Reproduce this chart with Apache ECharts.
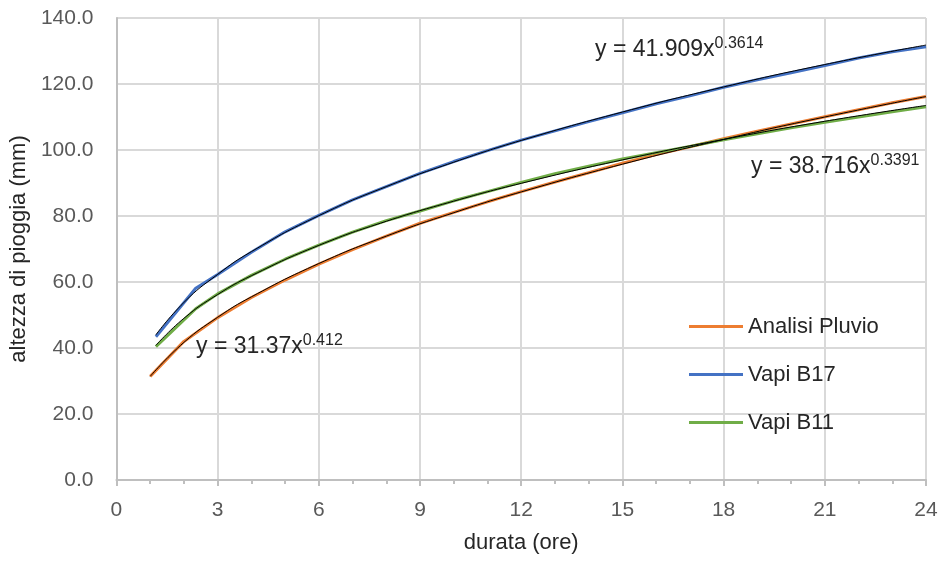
<!DOCTYPE html>
<html>
<head>
<meta charset="utf-8">
<script src="https://cdn.jsdelivr.net/npm/echarts@6/dist/echarts.min.js"></script>
<style>
  html, body { margin: 0; padding: 0; background: #fff; }
  #chart { width: 942px; height: 561px; }
</style>
</head>
<body>
<div id="chart"></div>
<script>
// durations (hours)
var pluvioX = [1, 2, 3, 4, 5, 6, 7, 8, 9, 10, 11, 12, 13, 14, 15, 16, 17, 18, 19, 20, 21, 22, 23, 24];
var vapiX = [1.17, 2.35, 3, 4, 5, 6, 7, 8, 9, 10, 11, 12, 13, 14, 15, 16, 17, 18, 19, 20, 21, 22, 23, 24];

// rain depth (mm)
var pluvio = [31.4, 42.0, 49.2, 55.3, 60.6, 65.4, 69.8, 73.9, 77.8, 81.1, 84.3, 87.4, 90.3, 93.1, 96.0, 98.6, 101.0, 103.4, 105.7, 107.9, 110.1, 112.2, 114.3, 116.2];
var vapiB17 = [43.4, 58.1, 62.3, 69.0, 75.2, 80.2, 84.9, 88.9, 92.9, 96.5, 99.8, 103.0, 105.8, 108.6, 111.3, 114.0, 116.4, 119.0, 121.3, 123.4, 125.6, 127.9, 129.8, 131.3];
var vapiB11 = [40.4, 51.9, 56.4, 62.0, 66.9, 71.2, 75.1, 78.6, 81.5, 84.6, 87.4, 90.2, 92.8, 95.1, 97.3, 99.2, 101.1, 103.1, 104.9, 106.7, 108.4, 110.0, 111.6, 113.1];

// black trendlines
var trendPluvioX = [1, 2, 3, 4, 6, 8, 10, 12, 15, 18, 21, 24];
var trendPluvio = [31.4, 41.7, 49.3, 55.5, 65.6, 73.9, 81.0, 87.3, 95.7, 103.2, 110.0, 116.2];
var trendVapiX = [1.17, 2, 3, 4, 6, 8, 10, 12, 15, 18, 21, 24];
var trendB17 = [44.0, 53.8, 62.3, 69.2, 80.1, 88.9, 96.3, 102.9, 111.5, 119.1, 125.9, 131.8];
var trendB11 = [40.8, 49.0, 56.2, 61.9, 71.1, 78.4, 84.5, 89.9, 97.0, 103.2, 108.7, 113.5];

var seriesNames = ['Analisi Pluvio', 'Vapi B17', 'Vapi B11'];

function pairs(xs, ys) {
    return xs.map(function (x, i) { return [x, ys[i]]; });
}

var chart = echarts.init(document.getElementById('chart'));
var font = 'Liberation Sans, Arial, sans-serif';

function eqText(left, top, main, sup) {
    return {
        type: 'text', left: left, top: top, z: 10,
        style: {
            text: '{a|' + main + '}{s|' + sup + '}',
            rich: {
                a: { fontSize: 23, fill: '#262626', fontFamily: font, lineHeight: 28 },
                s: { fontSize: 16, fill: '#262626', fontFamily: font, verticalAlign: 'top', lineHeight: 16 }
            }
        }
    };
}

var option = {
    animation: false,
    textStyle: { fontFamily: font },
    grid: { left: 115, right: 16, top: 18, bottom: 81 },
    legend: {
        data: seriesNames,
        orient: 'vertical',
        left: 684,
        top: 309,
        icon: 'rect',
        itemWidth: 54,
        itemHeight: 3,
        itemGap: 23,
        textStyle: { fontSize: 22, color: '#262626', fontFamily: font, lineHeight: 25 }
    },
    xAxis: {
        type: 'value',
        min: 0,
        max: 24,
        interval: 3,
        name: 'durata (ore)',
        nameLocation: 'middle',
        nameGap: 52,
        nameTextStyle: { fontSize: 22, color: '#262626' },
        axisLine: { lineStyle: { color: '#bfbfbf', width: 2 } },
        axisTick: { show: true, length: 6, lineStyle: { color: '#bfbfbf', width: 2 } },
        minorTick: { show: true, splitNumber: 3, length: 4, lineStyle: { color: '#bfbfbf', width: 2 } },
        axisLabel: { fontSize: 21, color: '#595959', margin: 20 },
        splitLine: { show: true, lineStyle: { color: '#d9d9d9', width: 2 } }
    },
    yAxis: {
        type: 'value',
        min: 0,
        max: 140,
        interval: 20,
        name: 'altezza di pioggia (mm)',
        nameLocation: 'middle',
        nameGap: 79,
        nameTextStyle: { fontSize: 22, color: '#262626' },
        axisLine: { show: true, lineStyle: { color: '#bfbfbf', width: 2 } },
        axisTick: { show: false },
        axisLabel: {
            fontSize: 21, color: '#595959', margin: 23,
            formatter: function (v) { return v.toFixed(1); }
        },
        splitLine: { show: true, lineStyle: { color: '#d9d9d9', width: 2 } }
    },
    graphic: [
        eqText(595, 36, 'y = 41.909x', '0.3614'),
        eqText(751, 153, 'y = 38.716x', '0.3391'),
        eqText(196, 333, 'y = 31.37x', '0.412')
    ],
    series: [
        {
            name: 'Analisi Pluvio', type: 'line', symbol: 'none', z: 2,
            lineStyle: { color: '#ED7D31', width: 3 }, itemStyle: { color: '#ED7D31' },
            data: pairs(pluvioX, pluvio)
        },
        {
            name: 'Vapi B17', type: 'line', symbol: 'none', z: 2,
            lineStyle: { color: '#4472C4', width: 3 }, itemStyle: { color: '#4472C4' },
            data: pairs(vapiX, vapiB17)
        },
        {
            name: 'Vapi B11', type: 'line', symbol: 'none', z: 2,
            lineStyle: { color: '#70AD47', width: 3 }, itemStyle: { color: '#70AD47' },
            data: pairs(vapiX, vapiB11)
        },
        {
            name: 'trend Pluvio', type: 'line', symbol: 'none', smooth: true, z: 3,
            lineStyle: { color: '#000', width: 1 }, data: pairs(trendPluvioX, trendPluvio)
        },
        {
            name: 'trend B17', type: 'line', symbol: 'none', smooth: true, z: 3,
            lineStyle: { color: '#000', width: 1 }, data: pairs(trendVapiX, trendB17)
        },
        {
            name: 'trend B11', type: 'line', symbol: 'none', smooth: true, z: 3,
            lineStyle: { color: '#000', width: 1 }, data: pairs(trendVapiX, trendB11)
        }
    ]
};

chart.setOption(option);
</script>
</body>
</html>
